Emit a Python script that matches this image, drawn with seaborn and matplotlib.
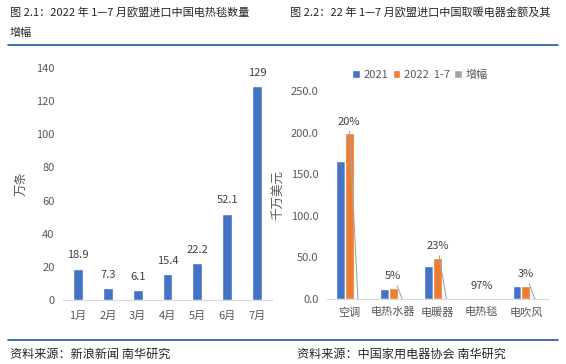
import pandas as pd
import matplotlib.pyplot as plt
import seaborn as sns
from matplotlib.lines import Line2D

# data
months = ["1月", "2月", "3月", "4月", "5月", "6月", "7月"]
blanket_qty = [18.9, 7.3, 6.1, 15.4, 22.2, 52.1, 129]
blanket_lbl = ["18.9", "7.3", "6.1", "15.4", "22.2", "52.1", "129"]

products = ["空调", "电热水器", "电暖器", "电热毯", "电吹风"]
val_2021 = [166.0, 12.0, 39.8, 0.7, 15.6]
val_2022 = [199.0, 13.6, 49.4, 1.4, 15.8]
growth = [0.20, 0.05, 0.23, 0.97, 0.03]
growth_lbl = ["20%", "5%", "23%", "97%", "3%"]
series_names = ["2021", "2022  1-7", "增幅"]

BLUE, ORANGE, GRAY = "#4472C4", "#ED7D31", "#A5A5A5"
TICK = "#595959"
LINE = "#1F5AA6"

sns.set_style("white")
plt.rcParams["font.family"] = ["Noto Sans CJK SC", "DejaVu Sans"]

fig = plt.figure(figsize=(5.66, 3.64), dpi=100)

# headers / footers
fig.text(10 / 566, 1 - 12 / 364, "图 2.1：2022 年 1—7 月欧盟进口中国电热毯数量",
         fontsize=8, va="center", ha="left")
fig.text(290 / 566, 1 - 12 / 364, "图 2.2：22 年 1—7 月欧盟进口中国取暖电器金额及其",
         fontsize=8, va="center", ha="left")
fig.text(10 / 566, 1 - 33 / 364, "增幅", fontsize=8, va="center", ha="left")
fig.add_artist(Line2D([8 / 566, 558 / 566], [1 - 45 / 364] * 2, color=LINE, lw=1.2))
fig.add_artist(Line2D([8 / 566, 558 / 566], [1 - 340 / 364] * 2, color=LINE, lw=1.2))
fig.text(10 / 566, 1 - 354 / 364, "资料来源：新浪新闻 南华研究", fontsize=8.7, va="center")
fig.text(297 / 566, 1 - 354 / 364, "资料来源：中国家用电器协会 南华研究", fontsize=8.7, va="center")

# Left: electric blanket quantity
ax1 = fig.add_axes([63 / 566, 1 - 300 / 364, 209 / 566, 232 / 364])
sns.barplot(x=months, y=blanket_qty, color=BLUE, width=0.33, saturation=1, ax=ax1)
ax1.bar_label(ax1.containers[0], labels=blanket_lbl, padding=6, fontsize=8, color="#404040")
ax1.set_ylim(0, 140)
ax1.set_xlim(-0.5, 6.5)
ax1.set_yticks(range(0, 141, 20))
ax1.set_ylabel("万条", fontsize=9, color=TICK, labelpad=6)
ax1.tick_params(axis="both", labelsize=8, labelcolor=TICK, length=0, pad=6)
ax1.tick_params(axis="x", pad=8)

# Right: heating appliance export value
df = pd.DataFrame({
    "product": products * 3,
    "series": [series_names[0]] * 5 + [series_names[1]] * 5 + [series_names[2]] * 5,
    "value": val_2021 + val_2022 + growth,
})
ax2 = fig.add_axes([327 / 566, 1 - 299 / 364, 221 / 566, 208 / 364])
sns.barplot(data=df, x="product", y="value", hue="series", palette=[BLUE, ORANGE, GRAY],
            width=0.6, saturation=1, ax=ax2)
ax2.set_ylim(0, 250)
ax2.set_xlim(-0.5, 4.5)
ax2.set_yticks(range(0, 251, 50))
ax2.set_yticklabels([f"{t:.1f}" for t in range(0, 251, 50)])
ax2.set_xlabel("")
ax2.set_ylabel("千万美元", fontsize=9, color=TICK)
ax2.yaxis.set_label_coords((284 - 327) / 221, 0.5)
ax2.tick_params(axis="both", labelsize=8, labelcolor=TICK, length=0, pad=6)

leader = [True, True, True, False, True]
for i, (g, lbl) in enumerate(zip(growth, growth_lbl)):
    ax2.annotate(lbl, xy=(i + 0.2, g), xytext=(i, val_2022[i] + 14),
                 ha="center", va="center", fontsize=8, color="#404040",
                 arrowprops=dict(arrowstyle="-", color=GRAY, lw=0.8, shrinkA=1, shrinkB=0)
                 if leader[i] else None)

h, l = ax2.get_legend_handles_labels()
ax2.legend(h, series_names, ncol=3, loc="center", bbox_to_anchor=(420 / 566, 1 - 75 / 364),
           bbox_transform=fig.transFigure, frameon=False, fontsize=8, labelcolor=TICK,
           handlelength=0.7, handleheight=0.7, handletextpad=0.3, columnspacing=0.4)

for ax in (ax1, ax2):
    ax.set_xlabel("")
    for s in ("top", "right", "left"):
        ax.spines[s].set_visible(False)
    ax.spines["bottom"].set_color("#D9D9D9")

fig.savefig("out.png", dpi=100)
